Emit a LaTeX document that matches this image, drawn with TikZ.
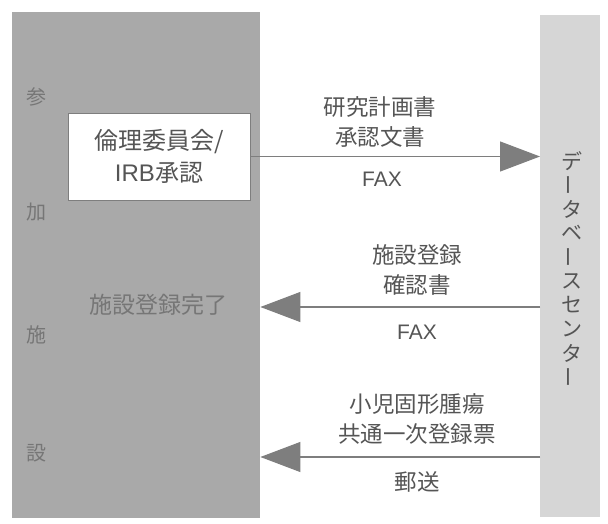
\documentclass[tikz,border=0pt]{standalone}
\usepackage{fontspec}
\setmainfont{Noto Sans CJK JP}
\newfontfamily\latn{Liberation Sans}
\newfontfamily\cjkbold{Noto Sans CJK JP Medium}
\usetikzlibrary{arrows.meta}
\definecolor{panelL}{HTML}{A9A9A9}
\definecolor{panelR}{HTML}{D6D6D6}
\definecolor{txt}{HTML}{555555}
\definecolor{arr}{HTML}{7E7E7E}
\definecolor{sidetxt}{HTML}{767676}
\tikzset{
  panel/.style={draw=none, inner sep=0pt, anchor=north west},
  lbl/.style={text=txt, font=\fontsize{22.5}{30}\selectfont, align=center, inner sep=0pt},
  sidechar/.style={text=sidetxt, font=\fontsize{20}{20}\selectfont, inner sep=0pt},
  vchar/.style={text=txt, font=\fontsize{21}{21}\selectfont, inner sep=0pt},
  flow/.style={draw=arr, line width=1.1pt, -{Triangle[length=40pt,width=30pt]}, arr, fill=arr},
  whitebox/.style={draw=arr, fill=white, line width=0.8pt, text=txt, align=center,
    minimum width=182pt, minimum height=87pt, inner sep=0pt, font=\fontsize{24}{32}\selectfont}
}
\begin{document}
\begin{tikzpicture}[x=1pt,y=-1pt]
\useasboundingbox (0,0) rectangle (608,524);
\fill[white] (0,0) rectangle (608,524);
% panels
\node[panel, fill=panelL, minimum width=248pt, minimum height=506pt] (lp) at (12,12) {};
\node[panel, fill=panelR, minimum width=60pt, minimum height=502pt] (rp) at (540,15) {};
% left vertical labels
\node[sidechar] (s1) at (36,97) {参};
\node[sidechar] (s2) at (36,212) {加};
\node[sidechar] (s3) at (36,335) {施};
\node[sidechar] (s4) at (36,453) {設};
\node[text=sidetxt, font=\fontsize{23}{23}\selectfont, inner sep=0pt] (done) at (158,305) {施設登録完了};
% box
\node[whitebox] (irb) at (159,156.5) {倫理委員会/\\{\latn IRB}承認};
% right vertical label
\node[vchar] (v1) at (572,161) {デ};
\node[vchar, rotate=90] (v2) at (572,185) {ー};
\node[vchar] (v3) at (572,209) {タ};
\node[vchar] (v4) at (572,233) {ベ};
\node[vchar, rotate=90] (v5) at (572,257) {ー};
\node[vchar] (v6) at (572,281) {ス};
\node[vchar] (v7) at (572,305) {セ};
\node[vchar] (v8) at (572,329) {ン};
\node[vchar] (v9) at (572,353) {タ};
\node[vchar, rotate=90] (v10) at (572,377) {ー};
% arrow coordinates
\coordinate (y2) at (0,307);
\coordinate (y3) at (0,457);
% arrows
\draw[flow] (irb.east) -- (rp.west |- irb.east);
\draw[flow] (rp.west |- y2) -- (lp.east |- y2);
\draw[flow] (rp.west |- y3) -- (lp.east |- y3);
% labels
\node[lbl] (l1) at (380,122) {研究計画書\\承認文書};
\node[lbl, font=\latn\fontsize{21}{21}\selectfont] (l1b) at (382,179) {FAX};
\node[lbl] (l2) at (417,270) {施設登録\\確認書};
\node[lbl, font=\latn\fontsize{21}{21}\selectfont] (l2b) at (417,332) {FAX};
\node[lbl] (l3) at (417,419) {小児固形腫瘍\\共通一次登録票};
\node[lbl] (l3b) at (417,482) {郵送};
\end{tikzpicture}
\end{document}
